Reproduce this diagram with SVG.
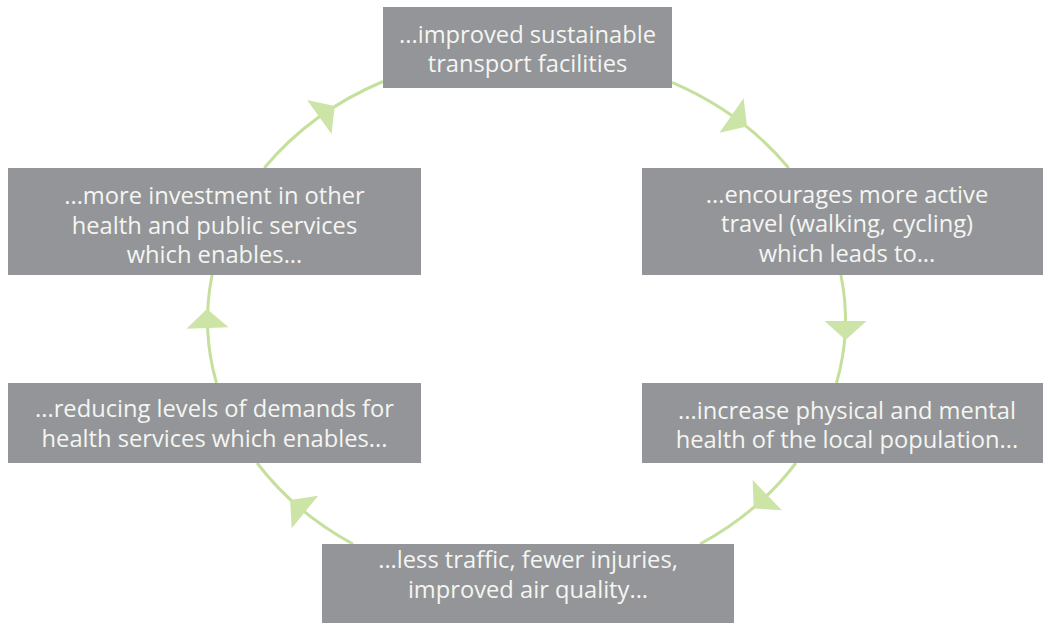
<svg xmlns="http://www.w3.org/2000/svg" xmlns:xlink="http://www.w3.org/1999/xlink" width="1043" height="623" viewBox="0 0 1043 623">
<defs>
<style>
.box{fill:#939598;}
.lbl{font-family:"Open Sans","Liberation Sans",sans-serif;font-size:23.7px;fill:#f5f5f2;text-anchor:middle;}
.arc{fill:none;stroke:#c5e09c;stroke-width:3;}
.ah{fill:#cce4a6;}
</style>
<path id="ah" d="M0,-21 L19,0 L0,21 Z"/>
</defs>
<rect width="1043" height="623" fill="#ffffff"/>
<g id="connectors">
<g id="c1"><path class="arc" d="M672,82.4 A319 267 0 0 1 788.7,168"/><use xlink:href="#ah" class="ah" transform="translate(731.5,115.5) rotate(35)"/></g>
<g id="c2"><path class="arc" d="M840.9,275 A319 267 0 0 1 836.5,383"/><use xlink:href="#ah" class="ah" transform="translate(845.5,321) rotate(90)"/></g>
<g id="c3"><path class="arc" d="M795.9,463 A319 267 0 0 1 700.1,544"/><use xlink:href="#ah" class="ah" transform="translate(767.3,495.2) rotate(136)"/></g>
<g id="c4"><path class="arc" d="M352.9,544 A319 267 0 0 1 257.1,463"/><use xlink:href="#ah" class="ah" transform="translate(304.9,512) rotate(219)"/></g>
<g id="c5"><path class="arc" d="M216.5,383 A319 267 0 0 1 212.1,275"/><use xlink:href="#ah" class="ah" transform="translate(207.6,328) rotate(-92)"/></g>
<g id="c6"><path class="arc" d="M264.3,168 A319 267 0 0 1 383,81.5"/><use xlink:href="#ah" class="ah" transform="translate(319.3,117) rotate(-35.6)"/></g>
</g>
<g id="n1"><rect class="box" x="383" y="7" width="289" height="81"/>
<text class="lbl" x="527.5" y="43">...improved sustainable</text>
<text class="lbl" x="527.5" y="72">transport facilities</text></g>
<g id="n2"><rect class="box" x="642" y="168" width="410" height="107"/>
<text class="lbl" x="847" y="203">...encourages more active</text>
<text class="lbl" x="847" y="232">travel (walking, cycling)</text>
<text class="lbl" x="847" y="262">which leads to...</text></g>
<g id="n3"><rect class="box" x="642" y="383" width="410" height="80"/>
<text class="lbl" x="847" y="419">...increase physical and mental</text>
<text class="lbl" x="847" y="448">health of the local population...</text></g>
<g id="n4"><rect class="box" x="322" y="544" width="412" height="85"/>
<text class="lbl" x="528" y="568">...less traffic, fewer injuries,</text>
<text class="lbl" x="528" y="598">improved air quality...</text></g>
<g id="n5"><rect class="box" x="8" y="383" width="413" height="80"/>
<text class="lbl" x="214.5" y="417">...reducing levels of demands for</text>
<text class="lbl" x="214.5" y="447">health services which enables...</text></g>
<g id="n6"><rect class="box" x="8" y="168" width="413" height="107"/>
<text class="lbl" x="214.5" y="204">...more investment in other</text>
<text class="lbl" x="214.5" y="234">health and public services</text>
<text class="lbl" x="214.5" y="263">which enables...</text></g>
</svg>
